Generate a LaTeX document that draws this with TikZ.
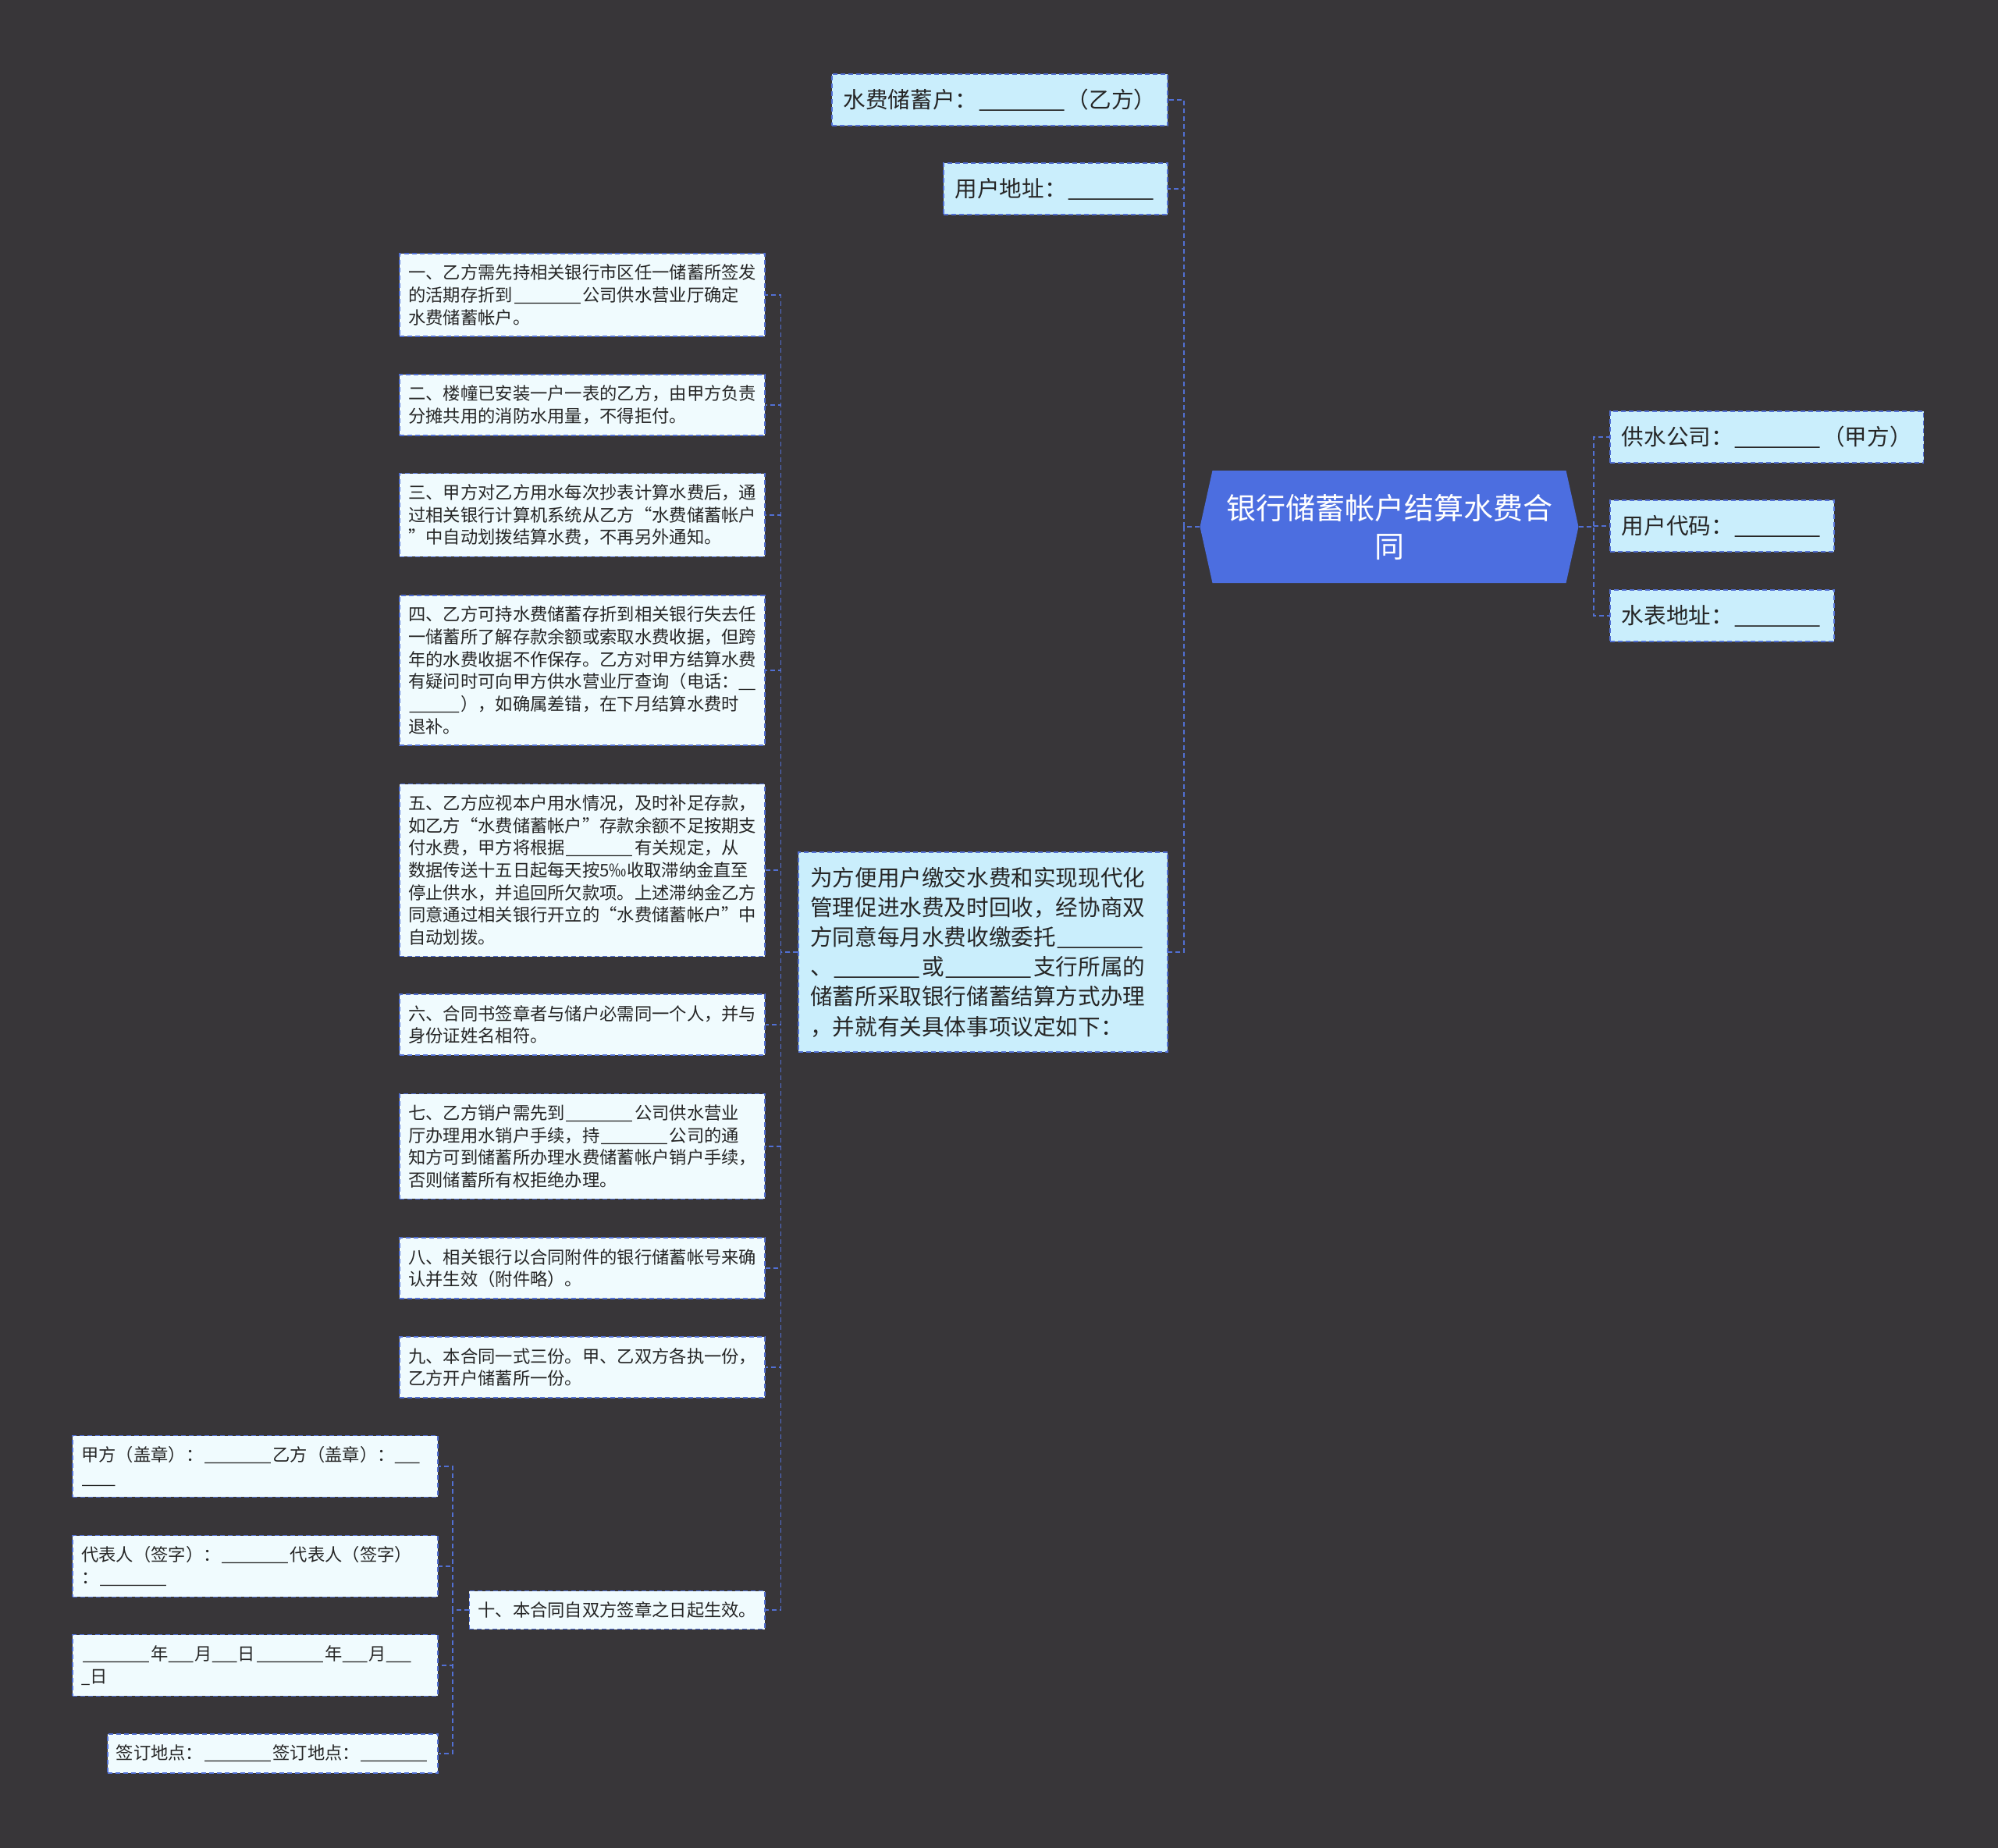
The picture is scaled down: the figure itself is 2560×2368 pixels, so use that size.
\documentclass[tikz,border=0pt]{standalone}
\usepackage{fontspec}
\setmainfont{Noto Sans CJK SC}
\usepackage{xcolor}
\usepackage{graphicx}
\definecolor{BgGray}{RGB}{56,54,57}
\definecolor{RootBlue}{RGB}{76,110,224}
\definecolor{LinkBlue}{RGB}{82,112,212}
\definecolor{BranchCyan}{RGB}{202,238,252}
\definecolor{LeafCyan}{RGB}{240,251,254}
\definecolor{InkDark}{RGB}{38,38,38}
\usepackage{tikz}
\usetikzlibrary{shapes.symbols}

\newcommand\ublank[1]{\resizebox*{#1em}{\totalheight}{\_}}
\newcommand\fillblank{\ublank{4}}

\begin{document}
\begin{tikzpicture}[
        x=1pt, y=-1pt,
        link/.style={draw=LinkBlue, line width=1.8pt, dash pattern=on 6pt off 4pt},
        leaf/.style={draw=LinkBlue, line width=1.6pt, dash pattern=on 6pt off 4pt,
                    fill=LeafCyan, text=InkDark, align=left,
                    inner xsep=11pt, inner ysep=14pt,
                    font=\fontsize{22.3}{28.7}\selectfont},
        wideleaf/.style={leaf, text width=446pt},
        branch/.style={draw=LinkBlue, line width=1.6pt, dash pattern=on 6pt off 4pt,
                    fill=BranchCyan, text=InkDark, align=left,
                    inner xsep=15pt, inner ysep=19pt,
                    font=\fontsize{28.6}{38.2}\selectfont},
        topic/.style={signal, signal to=west and east, signal pointer angle=155,
                    fill=RootBlue, text=white, align=center,
                    minimum width=485pt, minimum height=144pt,
                    font=\fontsize{38}{49}\selectfont}
    ]
        \useasboundingbox (0,0) rectangle (2560,2368);
        \fill[BgGray] (0,0) rectangle (2560,2368);

        % centre topic
        \node[topic] (root) at (1780,675) {银行储蓄帐户结算水费合\\同};

        % right side
        \node[branch, anchor=west] (supplier) at (2062,560) {供水公司：\fillblank（甲方）};
        \node[branch, anchor=west] (usercode) at (2062,674) {用户代码：\fillblank};
        \node[branch, anchor=west] (meter) at (2062,789) {水表地址：\fillblank};

        % left side
        \node[branch, anchor=east] (holder) at (1497,128) {水费储蓄户：\fillblank（乙方）};
        \node[branch, anchor=east] (address) at (1497,242) {用户地址：\fillblank};
        \node[branch, anchor=east, text width=443pt] (intro) at (1497,1220)
            {为方便用户缴交水费和实现现代化\\管理促进水费及时回收，经协商双\\方同意每月水费收缴委托\fillblank\\、\fillblank 或\fillblank 支行所属的\\储蓄所采取银行储蓄结算方式办理\\，并就有关具体事项议定如下：};

        % clauses
        \node[wideleaf, anchor=east] (c1) at (981,378)
            {一、乙方需先持相关银行市区任一储蓄所签发\\的活期存折到\fillblank 公司供水营业厅确定\\水费储蓄帐户。};
        \node[wideleaf, anchor=east] (c2) at (981,519)
            {二、楼幢已安装一户一表的乙方，由甲方负责\\分摊共用的消防水用量，不得拒付。};
        \node[wideleaf, anchor=east] (c3) at (981,660)
            {三、甲方对乙方用水每次抄表计算水费后，通\\过相关银行计算机系统从乙方“水费储蓄帐户\\”中自动划拨结算水费，不再另外通知。};
        \node[wideleaf, anchor=east] (c4) at (981,859)
            {四、乙方可持水费储蓄存折到相关银行失去任\\一储蓄所了解存款余额或索取水费收据，但跨\\年的水费收据不作保存。乙方对甲方结算水费\\有疑问时可向甲方供水营业厅查询（电话：\ublank{1}\\\ublank{3}），如确属差错，在下月结算水费时\\退补。};
        \node[wideleaf, anchor=east] (c5) at (981,1115)
            {五、乙方应视本户用水情况，及时补足存款，\\如乙方“水费储蓄帐户”存款余额不足按期支\\付水费，甲方将根据\fillblank 有关规定，从\\数据传送十五日起每天按5‰收取滞纳金直至\\停止供水，并追回所欠款项。上述滞纳金乙方\\同意通过相关银行开立的“水费储蓄帐户”中\\自动划拨。};
        \node[wideleaf, anchor=east] (c6) at (981,1313)
            {六、合同书签章者与储户必需同一个人，并与\\身份证姓名相符。};
        \node[wideleaf, anchor=east] (c7) at (981,1469)
            {七、乙方销户需先到\fillblank 公司供水营业\\厅办理用水销户手续，持\fillblank 公司的通\\知方可到储蓄所办理水费储蓄帐户销户手续，\\否则储蓄所有权拒绝办理。};
        \node[wideleaf, anchor=east] (c8) at (981,1625)
            {八、相关银行以合同附件的银行储蓄帐号来确\\认并生效（附件略）。};
        \node[wideleaf, anchor=east] (c9) at (981,1752)
            {九、本合同一式三份。甲、乙双方各执一份，\\乙方开户储蓄所一份。};
        \node[leaf, anchor=east] (c10) at (981,2063) {十、本合同自双方签章之日起生效。};

        % signatures
        \node[wideleaf, anchor=east] (seal) at (562,1879)
            {甲方（盖章）：\fillblank 乙方（盖章）：\ublank{1.5}\\\ublank{2}};
        \node[wideleaf, anchor=east] (agent) at (562,2007)
            {代表人（签字）：\fillblank 代表人（签字）\\：\fillblank};
        \node[wideleaf, anchor=east] (date) at (562,2134)
            {\fillblank 年\ublank{1.5}月\ublank{1.5}日\fillblank 年\ublank{1.5}月\ublank{1.5}\\\ublank{0.5}日};
        \node[leaf, anchor=east] (place) at (562,2247) {签订地点：\fillblank 签订地点：\fillblank};

        % connectors
        \draw[link] (root.east) -- ++(19,0) |- (supplier.west);
        \draw[link] (root.east) -- ++(19,0) |- (usercode.west);
        \draw[link] (root.east) -- ++(19,0) |- (meter.west);
        \draw[link] (root.west) -- ++(-20,0) |- (holder.east);
        \draw[link] (root.west) -- ++(-20,0) |- (address.east);
        \draw[link] (root.west) -- ++(-20,0) |- (intro.east);
        \draw[link] (intro.west) -- ++(-22,0) |- (c1.east);
        \draw[link] (intro.west) -- ++(-22,0) |- (c2.east);
        \draw[link] (intro.west) -- ++(-22,0) |- (c3.east);
        \draw[link] (intro.west) -- ++(-22,0) |- (c4.east);
        \draw[link] (intro.west) -- ++(-22,0) |- (c5.east);
        \draw[link] (intro.west) -- ++(-22,0) |- (c6.east);
        \draw[link] (intro.west) -- ++(-22,0) |- (c7.east);
        \draw[link] (intro.west) -- ++(-22,0) |- (c8.east);
        \draw[link] (intro.west) -- ++(-22,0) |- (c9.east);
        \draw[link] (intro.west) -- ++(-22,0) |- (c10.east);
        \draw[link] (c10.west) -- ++(-21,0) |- (seal.east);
        \draw[link] (c10.west) -- ++(-21,0) |- (agent.east);
        \draw[link] (c10.west) -- ++(-21,0) |- (date.east);
        \draw[link] (c10.west) -- ++(-21,0) |- (place.east);
    \end{tikzpicture}
\end{document}
